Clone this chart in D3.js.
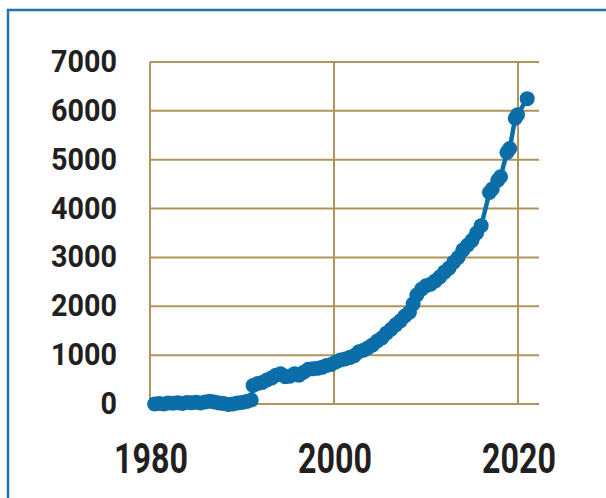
<!DOCTYPE html>
<html>
<head>
<meta charset="utf-8">
<script src="https://cdn.jsdelivr.net/npm/d3@7"></script>
<style>
  body { margin: 0; background: #fff; }
  text { font-family: Roboto, "Liberation Sans", sans-serif; font-weight: 700; fill: #231f20; }
</style>
</head>
<body>
<svg id="chart" width="606" height="498"></svg>
<script>
// data
const years = [1980.5, 1981, 1981.5, 1982, 1982.5, 1983, 1983.5, 1984, 1984.5, 1985, 1985.5, 1986, 1986.5, 1987, 1987.5, 1988, 1988.5, 1989, 1989.5, 1990, 1990.5, 1991,
  1991.2, 1991.7, 1992.2, 1992.7, 1993.2, 1993.7, 1994.2, 1994.7, 1995.2, 1995.7, 1996.2, 1996.7, 1997.2, 1997.7, 1998.2, 1998.7, 1999.2, 1999.7,
  2000.2, 2000.7, 2001.2, 2001.7, 2002.2, 2002.7, 2003.2, 2003.7, 2004.2, 2004.7, 2005.2, 2005.7, 2006.2, 2006.7, 2007.2, 2007.7, 2008.2, 2008.6,
  2009, 2009.5, 2010, 2010.5, 2011, 2011.5, 2012, 2012.5, 2013, 2013.5, 2014, 2014.5, 2015, 2015.5, 2016,
  2016.9, 2017.2, 2017.8, 2018.1, 2018.8, 2019.1, 2019.7, 2019.95, 2021];
const values = [0, 10, 0, 20, 15, 25, 10, 30, 25, 35, 20, 40, 55, 40, 20, 10, -10, 0, 20, 30, 50, 80,
  380, 420, 440, 490, 530, 590, 620, 560, 570, 620, 590, 650, 710, 720, 730, 750, 790, 810,
  860, 900, 920, 950, 990, 1070, 1100, 1150, 1210, 1290, 1350, 1450, 1530, 1620, 1700, 1800, 1880, 2050,
  2230, 2350, 2420, 2450, 2520, 2600, 2700, 2780, 2900, 3000, 3150, 3250, 3350, 3500, 3650,
  4330, 4400, 4580, 4650, 5150, 5230, 5850, 5920, 6250];
const yTicks = [0, 1000, 2000, 3000, 4000, 5000, 6000, 7000];
const xTicks = [1980, 2000, 2020];

const svg = d3.select("#chart");
const grid = "#b0955a", blue = "#0b6ea9";

// frame
svg.append("path")
  .attr("d", "M8,510V10H620")
  .attr("fill", "none").attr("stroke", "#1a76ab").attr("stroke-width", 2.5);

const x = d3.scaleLinear().domain([1980, 2020]).range([150, 518]);
const y = d3.scaleLinear().domain([0, 7000]).range([404, 62]);

// grid
svg.append("g").selectAll("line").data(yTicks).join("line")
  .attr("x1", x(1980)).attr("x2", 539)
  .attr("y1", d => y(d)).attr("y2", d => y(d))
  .attr("stroke", grid).attr("stroke-width", 2);
svg.append("g").selectAll("line").data(xTicks).join("line")
  .attr("x1", d => x(d)).attr("x2", d => x(d))
  .attr("y1", y(0)).attr("y2", y(7000))
  .attr("stroke", grid).attr("stroke-width", 2);

// labels
svg.append("g").selectAll("text").data(yTicks).join("text")
  .attr("x", 117).attr("y", d => y(d) + 10)
  .attr("text-anchor", "end")
  .attr("font-size", 31)
  .attr("textLength", d => String(d).length * 16.5)
  .attr("lengthAdjust", "spacingAndGlyphs")
  .text(d => d);
svg.append("g").selectAll("text").data(xTicks).join("text")
  .attr("x", d => x(d) + 1).attr("y", 473)
  .attr("text-anchor", "middle")
  .attr("font-size", 42)
  .attr("textLength", 74)
  .attr("lengthAdjust", "spacingAndGlyphs")
  .text(d => d);

// series
const pts = years.map((t, i) => [t, values[i]]);
svg.append("path")
  .datum(pts)
  .attr("fill", "none").attr("stroke", blue).attr("stroke-width", 4.5)
  .attr("stroke-linejoin", "round")
  .attr("d", d3.line().x(d => x(d[0])).y(d => y(d[1])));
svg.append("g").selectAll("circle").data(pts).join("circle")
  .attr("cx", d => x(d[0])).attr("cy", d => y(d[1]))
  .attr("r", 7.5).attr("fill", blue);
</script>
</body>
</html>
